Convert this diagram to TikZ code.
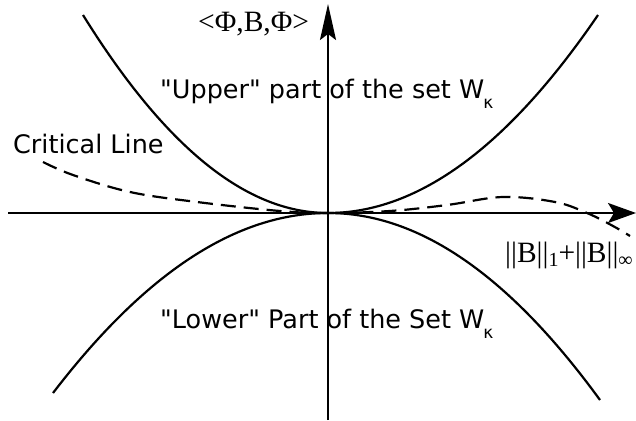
\documentclass[tikz,border=0pt]{standalone}
\usepackage{fontspec}
\usetikzlibrary{arrows.meta, positioning}
\newfontfamily\labelfont{DejaVu Sans}
\newfontfamily\normfont{Liberation Serif}
\newcommand{\subk}{\kern-1pt\raisebox{-10pt}{\fontsize{17}{17}\selectfont κ}}
\newcommand{\subsm}[1]{\raisebox{-4pt}{\fontsize{20}{20}\selectfont #1}}

\begin{document}
\begin{tikzpicture}[
    x=1pt, y=-1pt,
    axis/.style={line width=2.2pt},
    yarrow/.style={-{Stealth[length=36pt, width=16pt, inset=6pt]}},
    xarrow/.style={-{Stealth[length=28pt, width=20pt, inset=6pt]}},
    curve/.style={line width=2.2pt},
    critical/.style={line width=2.2pt, dash pattern=on 15pt off 8pt},
    textlabel/.style={inner sep=0pt, anchor=base west, font=\labelfont\fontsize{25.5}{30}\selectfont},
    mathlabel/.style={inner sep=0pt, anchor=base west, font=\normfont\fontsize{29.5}{34}\selectfont}
]
    \useasboundingbox (0,0) rectangle (636,420);

    % Axes
    \coordinate (origin) at (328,213);
    \coordinate (xstart) at (8,213);
    \coordinate (xend) at (636,213);
    \coordinate (ystart) at (328,420);
    \coordinate (yend) at (328,4);
    \draw[axis, xarrow] (xstart) -- (xend);
    \draw[axis, yarrow] (ystart) -- (yend);

    % Boundary of the set
    \draw[curve] (83,15) .. controls (165,147) and (246,213) .. (origin)
        .. controls (418,213) and (508,147) .. (598,15);
    \draw[curve] (53,393) .. controls (145,273) and (236,213) .. (origin)
        .. controls (419,213) and (509,275) .. (600,400);

    % Critical line
    \draw[critical] plot[smooth, tension=0.6] coordinates {
        (43,162) (73,175) (130,192) (197,202) (280,211) (328,213)
        (390,211) (447,205) (503,197) (555,202) (587,213) (613,226) (630,236)};

    % Labels
    \node[mathlabel] (ylabel) at (198,32) {<Φ,B,Φ>};
    \node[mathlabel] (xlabel) at (505,262) {||B||\subsm{1}+||B||\subsm{∞}};
    \node[textlabel] (upper) at (160,98) {"Upper" part of the set W\subk};
    \node[textlabel] (lower) at (160,328) {"Lower" Part of the Set W\subk};
    \node[textlabel] (critlabel) at (13,153) {Critical Line};
\end{tikzpicture}
\end{document}
